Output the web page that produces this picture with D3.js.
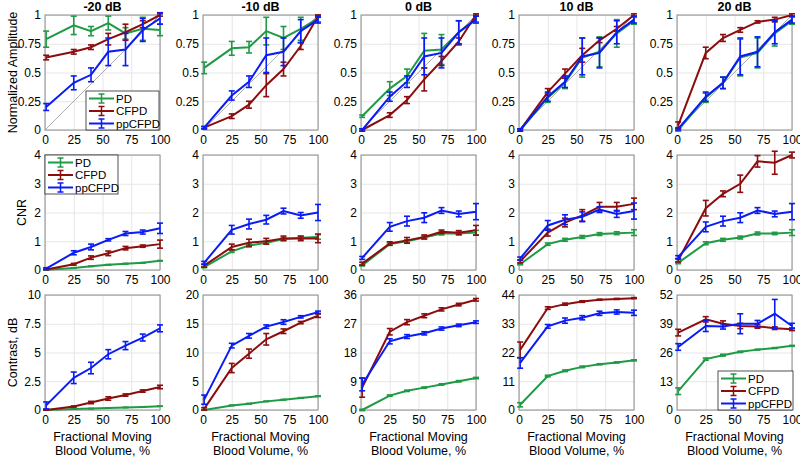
<!DOCTYPE html>
<html>
<head>
<meta charset="utf-8">
<script src="https://cdn.jsdelivr.net/npm/d3@7"></script>
<style>
  body { margin: 0; background: #fff; }
  text { font-family: "Liberation Sans", Arial, sans-serif; fill: #000; }
  .grid line { stroke: #e6e6e6; stroke-width: 1; }
  .grid .domain { display: none; }
</style>
</head>
<body>
<svg id="chart" width="800" height="458"></svg>
<script>
// fractional moving blood volume (%) at which each point was measured
var xVals = [1, 25, 40, 55, 70, 85, 100];
var snrLabels = ["-20 dB", "-10 dB", "0 dB", "10 dB", "20 dB"];
var methods = ["PD", "CFPD", "ppCFPD"];
var xTicks = [0, 25, 50, 75, 100];

// normalized amplitude, one row per SNR
var ampPD = [
  [0.79, 0.91, 0.86, 0.93, 0.84, 0.88, 0.87],
  [0.54, 0.71, 0.72, 0.86, 0.80, 0.88, 0.97],
  [0.12, 0.36, 0.47, 0.69, 0.70, 0.85, 0.97],
  [0.00, 0.28, 0.41, 0.63, 0.68, 0.84, 0.95],
  [0.00, 0.28, 0.41, 0.63, 0.67, 0.84, 0.95]
];
var ampPDErr = [
  [0.07, 0.08, 0.04, 0.06, 0.05, 0.10, 0.05],
  [0.05, 0.06, 0.05, 0.12, 0.10, 0.10, 0.03],
  [0.01, 0.06, 0.06, 0.15, 0.13, 0.10, 0.03],
  [0.01, 0.04, 0.05, 0.17, 0.13, 0.12, 0.03],
  [0.01, 0.04, 0.05, 0.16, 0.13, 0.11, 0.03]
];
var ampCFPD = [
  [0.63, 0.68, 0.72, 0.79, 0.85, 0.92, 1.00],
  [0.02, 0.12, 0.22, 0.39, 0.53, 0.73, 0.99],
  [0.00, 0.13, 0.26, 0.44, 0.60, 0.77, 1.00],
  [0.00, 0.33, 0.49, 0.65, 0.78, 0.88, 1.00],
  [0.04, 0.67, 0.80, 0.87, 0.94, 0.96, 1.00]
];
var ampCFPDErr = [
  [0.02, 0.02, 0.02, 0.05, 0.07, 0.03, 0.01],
  [0.01, 0.02, 0.03, 0.10, 0.06, 0.03, 0.01],
  [0.01, 0.02, 0.03, 0.10, 0.04, 0.03, 0.01],
  [0.01, 0.03, 0.04, 0.06, 0.02, 0.02, 0.01],
  [0.03, 0.05, 0.03, 0.02, 0.01, 0.02, 0.01]
];
var ampPP = [
  [0.20, 0.41, 0.48, 0.68, 0.70, 0.87, 0.97],
  [0.02, 0.30, 0.42, 0.65, 0.68, 0.86, 0.96],
  [0.00, 0.29, 0.42, 0.64, 0.67, 0.85, 0.96],
  [0.00, 0.29, 0.42, 0.64, 0.67, 0.85, 0.96],
  [0.01, 0.29, 0.41, 0.64, 0.68, 0.85, 0.96]
];
var ampPPErr = [
  [0.03, 0.06, 0.06, 0.12, 0.14, 0.10, 0.05],
  [0.01, 0.04, 0.05, 0.15, 0.12, 0.10, 0.03],
  [0.01, 0.04, 0.05, 0.16, 0.13, 0.10, 0.03],
  [0.01, 0.04, 0.05, 0.16, 0.13, 0.10, 0.03],
  [0.01, 0.04, 0.05, 0.16, 0.13, 0.10, 0.03]
];

// CNR
var cnrPD = [
  [0.01, 0.07, 0.13, 0.18, 0.22, 0.25, 0.32],
  [0.10, 0.65, 0.85, 0.95, 1.08, 1.12, 1.15],
  [0.16, 0.90, 1.00, 1.13, 1.27, 1.27, 1.30],
  [0.20, 0.90, 1.05, 1.15, 1.25, 1.28, 1.30],
  [0.25, 0.93, 1.05, 1.13, 1.27, 1.27, 1.30]
];
var cnrPDErr = [
  [0.01, 0.01, 0.01, 0.01, 0.01, 0.01, 0.01],
  [0.02, 0.04, 0.05, 0.05, 0.05, 0.05, 0.08],
  [0.02, 0.04, 0.05, 0.05, 0.05, 0.05, 0.08],
  [0.02, 0.04, 0.05, 0.05, 0.05, 0.05, 0.10],
  [0.03, 0.05, 0.05, 0.05, 0.05, 0.04, 0.10]
];
var cnrCFPD = [
  [0.02, 0.20, 0.43, 0.58, 0.76, 0.83, 0.90],
  [0.15, 0.80, 0.95, 1.00, 1.10, 1.10, 1.10],
  [0.22, 0.92, 1.03, 1.15, 1.33, 1.30, 1.38],
  [0.30, 1.30, 1.65, 1.90, 2.20, 2.20, 2.30],
  [0.33, 2.15, 2.65, 3.00, 3.78, 3.73, 4.00]
];
var cnrCFPDErr = [
  [0.01, 0.03, 0.06, 0.08, 0.06, 0.04, 0.14],
  [0.05, 0.10, 0.12, 0.10, 0.08, 0.08, 0.15],
  [0.05, 0.06, 0.10, 0.07, 0.06, 0.07, 0.17],
  [0.05, 0.12, 0.15, 0.20, 0.15, 0.15, 0.20],
  [0.05, 0.27, 0.10, 0.30, 0.20, 0.40, 0.10]
];
var cnrPP = [
  [0.05, 0.60, 0.80, 1.05, 1.27, 1.32, 1.45],
  [0.25, 1.40, 1.60, 1.75, 2.05, 1.90, 2.00],
  [0.42, 1.50, 1.70, 1.82, 2.07, 1.95, 2.03],
  [0.40, 1.55, 1.75, 1.85, 2.10, 1.95, 2.05],
  [0.45, 1.50, 1.70, 1.82, 2.07, 1.95, 2.03]
];
var cnrPPErr = [
  [0.03, 0.07, 0.10, 0.04, 0.07, 0.07, 0.18],
  [0.05, 0.15, 0.17, 0.15, 0.10, 0.10, 0.28],
  [0.05, 0.15, 0.17, 0.17, 0.10, 0.10, 0.28],
  [0.05, 0.17, 0.17, 0.17, 0.10, 0.12, 0.28],
  [0.05, 0.17, 0.17, 0.17, 0.10, 0.10, 0.28]
];

// contrast, dB
var conMax = [10, 20, 36, 44, 52];
var conPD = [
  [0.00, 0.08, 0.12, 0.18, 0.22, 0.27, 0.33],
  [0.00, 0.80, 1.10, 1.50, 1.80, 2.10, 2.40],
  [0.00, 4.50, 6.00, 7.00, 8.00, 9.00, 10.0],
  [2.00, 13.0, 15.0, 16.5, 17.5, 18.2, 19.0],
  [8.50, 23.0, 24.8, 26.3, 27.3, 28.0, 29.0]
];
var conPDErr = [
  [0.01, 0.01, 0.01, 0.01, 0.01, 0.01, 0.01],
  [0.05, 0.05, 0.05, 0.05, 0.05, 0.05, 0.05],
  [0.20, 0.20, 0.20, 0.20, 0.20, 0.20, 0.20],
  [0.80, 0.30, 0.30, 0.30, 0.20, 0.20, 0.20],
  [1.50, 0.50, 0.40, 0.30, 0.20, 0.20, 0.20]
];
var conCFPD = [
  [0.00, 0.30, 0.65, 1.00, 1.30, 1.65, 2.00],
  [0.20, 7.30, 9.80, 12.3, 13.7, 15.2, 16.4],
  [7.00, 24.5, 27.5, 29.5, 31.5, 33.0, 34.5],
  [23.0, 39.0, 40.5, 41.5, 42.2, 42.5, 42.8],
  [35.0, 41.0, 39.0, 38.0, 37.8, 37.0, 36.5]
];
var conCFPDErr = [
  [0.02, 0.05, 0.10, 0.15, 0.10, 0.10, 0.15],
  [0.20, 0.80, 0.80, 1.00, 0.40, 0.20, 0.30],
  [3.00, 1.00, 0.80, 0.60, 0.50, 0.40, 0.40],
  [3.00, 0.50, 0.40, 0.30, 0.20, 0.20, 0.20],
  [1.50, 1.20, 1.30, 1.20, 0.80, 0.60, 0.60]
];
var conPP = [
  [0.40, 2.80, 3.65, 4.85, 5.60, 6.30, 7.10],
  [1.80, 11.2, 12.9, 14.5, 15.3, 16.2, 17.0],
  [8.00, 21.5, 23.0, 24.0, 25.5, 26.5, 27.5],
  [18.0, 32.0, 34.2, 35.3, 37.0, 37.5, 37.2],
  [28.5, 38.0, 37.8, 39.0, 39.0, 43.5, 38.0]
];
var conPPErr = [
  [0.30, 0.50, 0.50, 0.40, 0.35, 0.30, 0.30],
  [0.80, 0.40, 0.40, 0.30, 0.40, 0.20, 0.20],
  [2.00, 0.80, 0.60, 0.50, 0.50, 0.40, 0.40],
  [2.00, 0.70, 1.00, 0.80, 0.80, 0.80, 1.00],
  [1.50, 2.50, 1.20, 4.50, 1.50, 6.50, 1.20]
];

var colors = {PD: "#1f9a45", CFPD: "#8b0d0d", ppCFPD: "#0a1cf5"};

var rows = [
  {label: "Normalized Amplitude", labelX: 13, mean: [ampPD, ampCFPD, ampPP], err: [ampPDErr, ampCFPDErr, ampPPErr],
   domain: function(i) { return [0, 1]; }},
  {label: "CNR", labelX: 22, mean: [cnrPD, cnrCFPD, cnrPP], err: [cnrPDErr, cnrCFPDErr, cnrPPErr],
   domain: function(i) { return [0, 4]; }},
  {label: "Contrast, dB", labelX: 13, mean: [conPD, conCFPD, conPP], err: [conPDErr, conCFPDErr, conPPErr],
   domain: function(i) { return [0, conMax[i]]; }}
];

var svg = d3.select("#chart");
var w = 115, h = 115;
var colLeft = function(c) { return 45 + c * 158; };
var rowTop = function(r) { return 15 + r * 140; };
var fmt = d3.format("~g");

rows.forEach(function(row, r) {
  // row title on the left
  svg.append("text")
    .attr("transform", "translate(" + row.labelX + "," + (rowTop(r) + h / 2) + ") rotate(-90)")
    .attr("text-anchor", "middle")
    .attr("dy", "0.35em")
    .style("font-size", "12.5px")
    .text(row.label);

  snrLabels.forEach(function(snr, c) {
    var g = svg.append("g")
      .attr("transform", "translate(" + colLeft(c) + "," + rowTop(r) + ")");

    var dom = row.domain(c);
    var x = d3.scaleLinear().domain([0, 100]).range([0, w]);
    var y = d3.scaleLinear().domain(dom).range([h, 0]);
    var yTicks = d3.range(5).map(function(k) { return dom[1] * k / 4; });

    // grid + tick labels
    g.append("g").attr("class", "grid")
      .attr("transform", "translate(0," + h + ")")
      .call(d3.axisBottom(x).tickValues(xTicks).tickSizeInner(-h).tickSizeOuter(0).tickPadding(5))
      .selectAll("text").style("font-size", "12px").attr("font-family", null);
    g.append("g").attr("class", "grid")
      .call(d3.axisLeft(y).tickValues(yTicks).tickFormat(fmt).tickSizeInner(-w).tickSizeOuter(0).tickPadding(4))
      .selectAll("text").style("font-size", "12px").attr("font-family", null);
    g.selectAll(".grid text").attr("fill", "#000");

    // frame
    g.append("rect").attr("width", w).attr("height", h)
      .attr("fill", "none").attr("stroke", "#8c8c8c").attr("stroke-width", 1);

    if (r === 0) {
      g.append("text").attr("x", w / 2).attr("y", -4)
        .attr("text-anchor", "middle")
        .style("font-size", "12.5px").style("font-weight", "bold")
        .text(snr);
      // identity line
      g.append("line")
        .attr("x1", x(0)).attr("y1", y(0)).attr("x2", x(100)).attr("y2", y(1))
        .attr("stroke", "#9a9a9a").attr("stroke-width", 0.8);
    }
    if (r === 2) {
      g.append("text").attr("x", w / 2).attr("y", h + 31)
        .attr("text-anchor", "middle").style("font-size", "12.5px")
        .text("Fractional Moving");
      g.append("text").attr("x", w / 2).attr("y", h + 45)
        .attr("text-anchor", "middle").style("font-size", "12.5px")
        .text("Blood Volume, %");
    }

    var line = d3.line()
      .x(function(d) { return x(d.x); })
      .y(function(d) { return y(d.m); });

    methods.forEach(function(m, k) {
      var pts = xVals.map(function(xv, j) {
        return {x: xv, m: row.mean[k][c][j], e: row.err[k][c][j]};
      });
      var s = g.append("g");
      s.append("path").datum(pts)
        .attr("d", line).attr("fill", "none")
        .attr("stroke", colors[m]).attr("stroke-width", 2);
      var eb = s.selectAll(".eb").data(pts).enter().append("g");
      eb.append("line")
        .attr("x1", function(d) { return x(d.x); }).attr("x2", function(d) { return x(d.x); })
        .attr("y1", function(d) { return y(d.m - d.e); }).attr("y2", function(d) { return y(d.m + d.e); })
        .attr("stroke", colors[m]).attr("stroke-width", 1.6);
      [-1, 1].forEach(function(sg) {
        eb.append("line")
          .attr("x1", function(d) { return x(d.x) - 3; }).attr("x2", function(d) { return x(d.x) + 3; })
          .attr("y1", function(d) { return y(d.m + sg * d.e); }).attr("y2", function(d) { return y(d.m + sg * d.e); })
          .attr("stroke", colors[m]).attr("stroke-width", 1.6);
      });
    });
  });
});

// legends
function legend(x0, y0, bw, bh, gap) {
  var lg = svg.append("g").attr("transform", "translate(" + x0 + "," + y0 + ")");
  lg.append("rect").attr("width", bw).attr("height", bh)
    .attr("fill", "#fff").attr("stroke", "#262626").attr("stroke-width", 0.8);
  methods.forEach(function(m, i) {
    var yy = 7.5 + i * gap;
    lg.append("line").attr("x1", 3).attr("x2", 28).attr("y1", yy).attr("y2", yy)
      .attr("stroke", colors[m]).attr("stroke-width", 2);
    lg.append("line").attr("x1", 15.5).attr("x2", 15.5).attr("y1", yy - 4.5).attr("y2", yy + 4.5)
      .attr("stroke", colors[m]).attr("stroke-width", 1.5);
    lg.append("line").attr("x1", 12.5).attr("x2", 18.5).attr("y1", yy - 4.5).attr("y2", yy - 4.5)
      .attr("stroke", colors[m]).attr("stroke-width", 1.5);
    lg.append("line").attr("x1", 12.5).attr("x2", 18.5).attr("y1", yy + 4.5).attr("y2", yy + 4.5)
      .attr("stroke", colors[m]).attr("stroke-width", 1.5);
    lg.append("text").attr("x", 30).attr("y", yy).attr("dy", "0.35em")
      .style("font-size", "11.5px").text(m);
  });
}
legend(86, 91, 73, 39, 12.5);
legend(45, 155, 73, 39, 12.5);
legend(718, 371, 75, 39, 12.5);
</script>
</body>
</html>
